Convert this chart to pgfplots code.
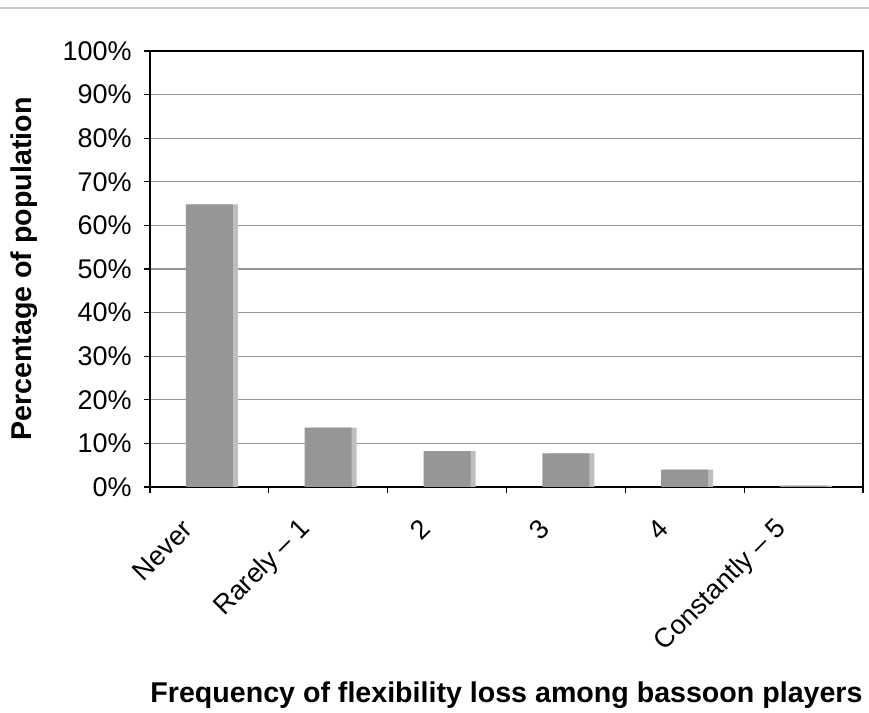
\documentclass[border=0pt]{standalone}
\usepackage{pgfplots}
\pgfplotsset{compat=1.18}
\usepackage{fontspec}
\setmainfont{Liberation Sans}
\definecolor{barcol}{RGB}{150,150,150}
\definecolor{shadowcol}{RGB}{190,190,190}
\definecolor{gridcol}{RGB}{150,150,150}
\begin{document}
\begin{tikzpicture}
\path[use as bounding box] (0,0) rectangle (434.5pt,356.5pt);
\draw[color=black!20, line width=0.8pt] (0,352.5pt) -- (434.5pt,352.5pt);
\begin{axis}[
  at={(75pt,113pt)}, anchor=south west,
  scale only axis,
  width=356.5pt, height=218pt,
  xmin=-0.5, xmax=5.5,
  ymin=0, ymax=100,
  ytick={0,10,...,100},
  yticklabel={\pgfmathprintnumber{\tick}\%},
  /pgf/number format/assume math mode=true,
  ymajorgrids,
  major grid style={color=gridcol, line width=0.6pt},
  xtick={0,1,2,3,4,5},
  xticklabels={Never, Rarely -- 1, 2, 3, 4, Constantly -- 5},
  major x tick style={draw=none},
  minor xtick={-0.5,0.5,1.5,2.5,3.5,4.5,5.5},
  minor x tick style={black, line width=0.6pt},
  minor tick length=3pt,
  tick align=outside,
  major tick length=3pt,
  y tick style={black, line width=0.6pt},
  xtick pos=bottom, ytick pos=left,
  axis line style={black, line width=1pt},
  ticklabel style={font=\fontsize{13.5}{16}\selectfont},
  xticklabel style={xshift=-10pt, yshift=-15pt, rotate=45, anchor=east, inner sep=1pt},
  yticklabel style={inner sep=2pt, xshift=-4pt},
  xlabel={Frequency of flexibility loss among bassoon players},
  ylabel={Percentage of population},
  every axis x label/.style={at={([yshift=-104pt]axis description cs:0.5,0)}, anchor=center, font=\fontsize{14.3}{17}\selectfont\bfseries},
  every axis y label/.style={at={([xshift=-63pt]axis description cs:0,0.5)}, rotate=90, anchor=center, font=\fontsize{14.3}{17}\selectfont\bfseries},
]
\addplot[ybar, bar width=23.5pt, bar shift=2.5pt, fill=shadowcol, draw=none] coordinates {
  (0,64.8) (1,13.6) (2,8.2) (3,7.7) (4,4.0) (5,0.3)
};
\addplot[ybar, bar width=23.5pt, bar shift=0pt, fill=barcol, draw=none] coordinates {
  (0,64.8) (1,13.6) (2,8.2) (3,7.7) (4,4.0) (5,0.3)
};
\end{axis}
\end{tikzpicture}
\end{document}
